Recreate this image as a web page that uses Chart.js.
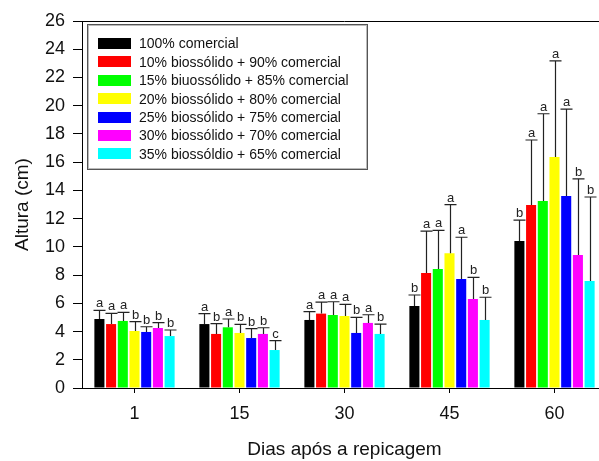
<!DOCTYPE html>
<html lang="pt">
<head>
<meta charset="UTF-8">
<title>Altura x Dias</title>
<script src="https://cdn.jsdelivr.net/npm/chart.js"></script>
<style>
    html, body { margin: 0; padding: 0; background: #fff; overflow: hidden; }
    #grafico { display: block; }
</style>
</head>
<body>
<canvas id="grafico" width="610" height="461"></canvas>
<script>
    // dados
    const dias = ['1', '15', '30', '45', '60'];

    const tratamentos = [
        '100% comercial',
        '10% biossólido + 90% comercial',
        '15% biuossólido + 85% comercial',
        '20% biossólido + 80% comercial',
        '25% biossólido + 75% comercial',
        '30% biossólido + 70% comercial',
        '35% biossóldio + 65% comercial'
    ];

    const cores = ['#000000', '#ff0000', '#00ff00', '#ffff00', '#0000ff', '#ff00ff', '#00ffff'];

    const alt100 = [4.89, 4.53, 4.82, 5.81, 10.41];
    const alt10 = [4.53, 3.83, 5.27, 8.15, 12.97];
    const alt15 = [4.75, 4.30, 5.17, 8.43, 13.25];
    const alt20 = [4.04, 3.90, 5.10, 9.54, 16.37];
    const alt25 = [3.97, 3.54, 3.90, 7.72, 13.60];
    const alt30 = [4.25, 3.83, 4.61, 6.31, 9.42];
    const alt35 = [3.68, 2.69, 3.83, 4.82, 7.58];

    const erro100 = [0.61, 0.74, 0.59, 0.78, 1.49];
    const erro10 = [0.76, 0.73, 0.82, 2.97, 4.60];
    const erro15 = [0.61, 0.59, 0.94, 2.74, 6.18];
    const erro20 = [0.66, 0.61, 0.83, 3.45, 6.80];
    const erro25 = [0.37, 0.66, 1.11, 2.96, 6.15];
    const erro30 = [0.38, 0.44, 0.58, 1.53, 5.39];
    const erro35 = [0.43, 0.66, 0.70, 1.61, 5.95];

    // letras do teste de medias (por dia, na ordem dos tratamentos)
    const letrasDia1 = ['a', 'a', 'a', 'b', 'b', 'b', 'b'];
    const letrasDia15 = ['a', 'b', 'a', 'b', 'b', 'b', 'c'];
    const letrasDia30 = ['a', 'a', 'a', 'a', 'b', 'a', 'b'];
    const letrasDia45 = ['b', 'a', 'a', 'a', 'a', 'b', 'b'];
    const letrasDia60 = ['b', 'a', 'a', 'a', 'a', 'b', 'b'];

    const alturas = [alt100, alt10, alt15, alt20, alt25, alt30, alt35];
    const erros = [erro100, erro10, erro15, erro20, erro25, erro30, erro35];
    const letras = [letrasDia1, letrasDia15, letrasDia30, letrasDia45, letrasDia60];

    const fonte = '"Liberation Sans", Arial, Helvetica, sans-serif';

    // barras de erro + letras
    const pluginErros = {
        id: 'erros',
        afterDatasetsDraw(chart) {
            const ctx = chart.ctx;
            const y = chart.scales.y;
            ctx.save();
            ctx.font = '13px ' + fonte;
            ctx.textAlign = 'center';
            ctx.textBaseline = 'alphabetic';
            chart.data.datasets.forEach(function (ds, i) {
                const meta = chart.getDatasetMeta(i);
                meta.data.forEach(function (bar, j) {
                    const topo = y.getPixelForValue(ds.data[j] + erros[i][j]);
                    const x = Math.round(bar.x) + 0.5;
                    ctx.strokeStyle = '#222';
                    ctx.lineWidth = 1.2;
                    ctx.beginPath();
                    ctx.moveTo(x, bar.y);
                    ctx.lineTo(x, topo);
                    ctx.moveTo(x - 6, topo);
                    ctx.lineTo(x + 6, topo);
                    ctx.stroke();
                    ctx.fillStyle = '#222';
                    ctx.fillText(letras[j][i], x, topo - 3);
                });
            });
            ctx.restore();
        }
    };

    // linha superior e legenda dentro da area
    const pluginMoldura = {
        id: 'moldura',
        afterDraw(chart) {
            const ctx = chart.ctx;
            const area = chart.chartArea;
            ctx.save();
            ctx.strokeStyle = '#000';
            ctx.lineWidth = 1;
            ctx.beginPath();
            ctx.moveTo(area.left, Math.round(area.top) + 0.5);
            ctx.lineTo(area.right, Math.round(area.top) + 0.5);
            ctx.stroke();

            // legenda
            ctx.fillStyle = '#fff';
            ctx.fillRect(87.5, 24.5, 280, 145);
            ctx.strokeStyle = '#555';
            ctx.strokeRect(87.5, 24.5, 280, 145);
            ctx.strokeStyle = '#bbb';
            ctx.strokeRect(88.5, 25.5, 278, 143);

            ctx.font = '14px ' + fonte;
            ctx.textAlign = 'left';
            ctx.textBaseline = 'middle';
            chart.data.datasets.forEach(function (ds, i) {
                const yc = 43.5 + i * 18.4;
                ctx.fillStyle = ds.backgroundColor;
                ctx.fillRect(98, Math.round(yc - 5.5), 33, 11);
                ctx.fillStyle = '#111';
                ctx.fillText(ds.label, 139, yc + 1);
            });
            ctx.restore();
        }
    };

    const datasets = tratamentos.map(function (nome, i) {
        return {
            label: nome,
            data: alturas[i],
            backgroundColor: cores[i],
            borderWidth: 0,
            categoryPercentage: 0.78,
            barPercentage: 0.86
        };
    });

    new Chart(document.getElementById('grafico'), {
        type: 'bar',
        data: { labels: dias, datasets: datasets },
        options: {
            responsive: false,
            animation: false,
            layout: { padding: { top: 21, right: 3, left: 0, bottom: 0 } },
            plugins: {
                legend: { display: false },
                tooltip: { enabled: false }
            },
            scales: {
                x: {
                    grid: { drawOnChartArea: false, offset: false, tickLength: 5, color: '#000' },
                    border: { color: '#000', width: 1 },
                    ticks: { color: '#111', padding: 10, font: { size: 18, family: fonte } },
                    title: {
                        display: true,
                        text: 'Dias após a repicagem',
                        color: '#111',
                        font: { size: 19, family: fonte },
                        padding: { top: 0, bottom: 0 }
                    },
                    afterFit(scale) { scale.height = 73; }
                },
                y: {
                    min: 0,
                    max: 26,
                    ticks: { stepSize: 2, color: '#111', padding: 8, font: { size: 18, family: fonte } },
                    grid: { drawOnChartArea: false, tickLength: 9, color: '#000' },
                    border: { color: '#000', width: 1 },
                    title: {
                        display: true,
                        text: 'Altura (cm)',
                        color: '#111',
                        font: { size: 19, family: fonte },
                        padding: { top: 11, bottom: 0 }
                    },
                    afterFit(scale) { scale.width = 82; }
                }
            }
        },
        plugins: [pluginErros, pluginMoldura]
    });
</script>
</body>
</html>
